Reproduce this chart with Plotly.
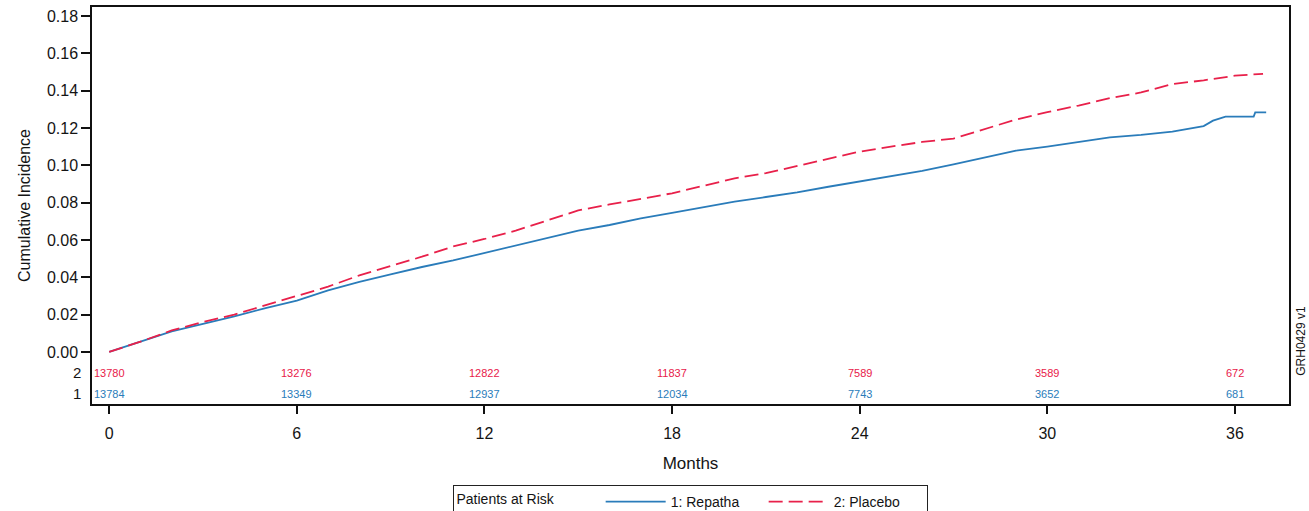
import plotly.graph_objects as go

# Cumulative incidence by month for each arm
months_repatha = [0, 1, 2, 3, 4, 5, 6, 7, 8, 9, 10, 11, 12, 13, 14, 15, 16, 17, 18,
                  19, 20, 21, 22, 23, 24, 25, 26, 27, 28, 29, 30, 31, 32, 33, 34, 35,
                  35.3, 35.7, 36.6, 36.65, 37.0]
incidence_repatha = [0, 0.0055, 0.011, 0.015, 0.019, 0.0235, 0.0275, 0.033, 0.0375,
                     0.0415, 0.0455, 0.049, 0.053, 0.057, 0.061, 0.065, 0.068, 0.0715,
                     0.0745, 0.0775, 0.0805, 0.083, 0.0855, 0.0885, 0.0913, 0.094, 0.097,
                     0.1005, 0.1042, 0.1078, 0.110, 0.1125, 0.115, 0.1163, 0.118, 0.121,
                     0.1239, 0.1261, 0.1261, 0.1283, 0.1283]

months_placebo = [0, 1, 2, 3, 4, 5, 6, 7, 8, 9, 10, 11, 12, 13, 14, 15, 16, 17, 18,
                  19, 20, 21, 22, 23, 24, 25, 26, 27, 28, 29, 30, 31, 32, 33, 34, 35,
                  36, 36.9]
incidence_placebo = [0, 0.0055, 0.0115, 0.016, 0.020, 0.025, 0.030, 0.035, 0.041, 0.046,
                     0.051, 0.0565, 0.0605, 0.065, 0.0705, 0.0758, 0.079, 0.082, 0.085,
                     0.089, 0.093, 0.0958, 0.0995, 0.1035, 0.1073, 0.110, 0.1125, 0.1143,
                     0.1195, 0.1245, 0.1285, 0.132, 0.136, 0.139, 0.1435, 0.1455, 0.148,
                     0.149]

# Patients at risk table
risk_months = [0, 6, 12, 18, 24, 30, 36]
at_risk_repatha = [13784, 13349, 12937, 12034, 7743, 3652, 681]
at_risk_placebo = [13780, 13276, 12822, 11837, 7589, 3589, 672]

y_ticks = [0.00, 0.02, 0.04, 0.06, 0.08, 0.10, 0.12, 0.14, 0.16, 0.18]
x_ticks = [0, 6, 12, 18, 24, 30, 36]

BLUE = "#2a7cba"
RED = "#e8204a"
FAM = "Liberation Sans, Arial, sans-serif"
TXT = "#141414"


def f(size, color=TXT):
    return dict(family=FAM, size=size, color=color)


fig = go.Figure()
fig.add_trace(go.Scatter(
    x=months_repatha, y=incidence_repatha, mode="lines", name="1: Repatha",
    line=dict(color=BLUE, width=1.8),
))
fig.add_trace(go.Scatter(
    x=months_placebo, y=incidence_placebo, mode="lines", name="2: Placebo",
    line=dict(color=RED, width=1.8, dash="14px,6px"),
))

annotations = []
for m, n2, n1 in zip(risk_months, at_risk_placebo, at_risk_repatha):
    annotations.append(dict(x=m, y=-0.0112, xref="x", yref="y", text=str(n2),
                            showarrow=False, font=f(11, RED)))
    annotations.append(dict(x=m, y=-0.0225, xref="x", yref="y", text=str(n1),
                            showarrow=False, font=f(11, BLUE)))
# row labels for the at-risk table
for lab, yv in (("2", -0.0112), ("1", -0.0225)):
    annotations.append(dict(x=0, y=yv, xref="paper", yref="y", text=lab, xanchor="right",
                            xshift=-9, showarrow=False, font=f(15)))
annotations.append(dict(x=1.0, y=0.006, xref="paper", yref="y", text="GRH0429 v1",
                        textangle=-90, xanchor="left", yanchor="middle", xshift=3,
                        showarrow=False, font=f(12)))

fig.update_layout(
    width=1309, height=511,
    margin=dict(l=92, r=20, t=7, b=107, autoexpand=False),
    paper_bgcolor="white", plot_bgcolor="white",
    font=f(13),
    showlegend=True,
    legend=dict(
        orientation="h", x=0.302, y=-0.204, xanchor="left", yanchor="top",
        title=dict(text="Patients at Risk\u00a0\u00a0\u00a0\u00a0\u00a0\u00a0\u00a0\u00a0\u00a0\u00a0", font=f(14)),
        font=f(14),
        bordercolor="#222", borderwidth=1, itemwidth=60,
        entrywidth=88, entrywidthmode="pixels",
    ),
    annotations=annotations,
)
fig.update_xaxes(
    range=[-0.55, 37.73], tickvals=x_ticks, ticks="outside", ticklen=8, tickwidth=1.5,
    tickcolor="#111", showline=True, linecolor="#111", linewidth=1.5, mirror=True,
    showgrid=False, zeroline=False, ticklabelstandoff=6,
    tickfont=f(16),
    title=dict(text="Months", font=f(17), standoff=16),
)
fig.update_yaxes(
    range=[-0.0279, 0.1848], tickvals=y_ticks, tickformat=".2f", ticks="outside",
    ticklen=9, tickwidth=1.5, tickcolor="#111", showline=True, linecolor="#111",
    linewidth=1.5, mirror=True, showgrid=False, zeroline=False,
    tickfont=f(16),
    title=dict(text="Cumulative Incidence", font=f(16), standoff=12),
)

fig.write_html("out.html")
